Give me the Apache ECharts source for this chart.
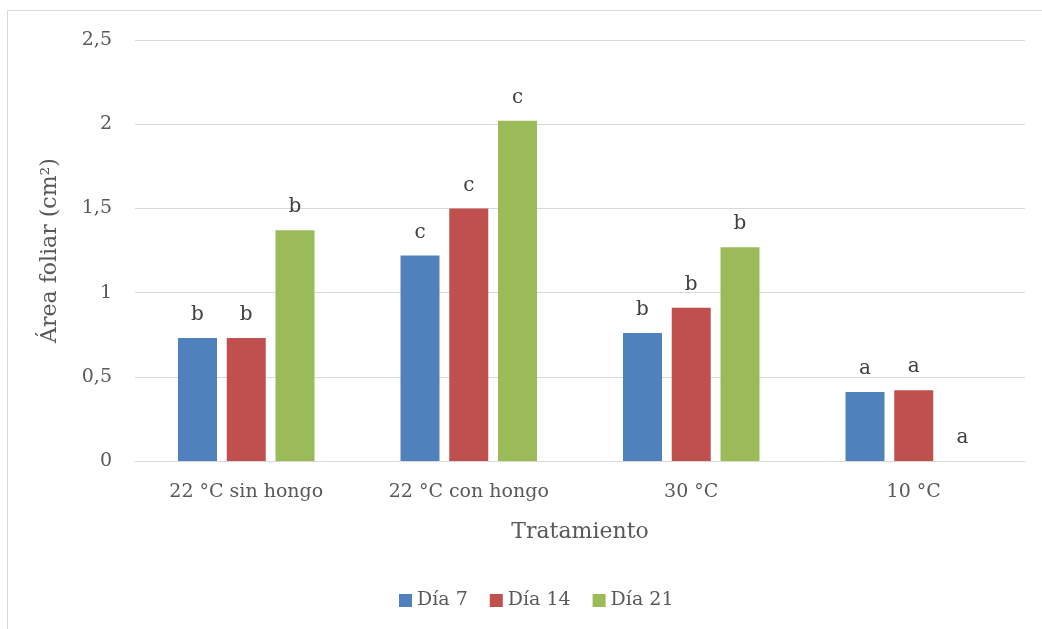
<!DOCTYPE html>
<html><head><meta charset="utf-8">
<script src="https://cdn.jsdelivr.net/npm/echarts@6/dist/echarts.min.js"></script>
<style>html,body{margin:0;padding:0;background:#fff}#c{width:1042px;height:629px}</style>
</head><body><div id="c"></div>
<script>
const categories = ['22 °C sin hongo', '22 °C con hongo', '30 °C', '10 °C'];
const seriesNames = ['Día 7', 'Día 14', 'Día 21'];
const dia7 = [0.73, 1.22, 0.76, 0.41];
const dia14 = [0.73, 1.50, 0.91, 0.42];
const dia21 = [1.37, 2.02, 1.27, 0];
const letters7 = ['b', 'c', 'b', 'a'];
const letters14 = ['b', 'c', 'b', 'a'];
const letters21 = ['b', 'c', 'b', 'a'];
const yTicks = [0, 0.5, 1, 1.5, 2, 2.5];

const FONT = 'DejaVu Serif';
const colors = ['#4F81BD', '#C0504D', '#9BBB59'];
const chart = echarts.init(document.getElementById('c'));
function mk(name, data, letters, color) {
  return {
    name: name, type: 'bar', data: data, barWidth: 39, barGap: '25%',
    itemStyle: { color: color },
    label: { show: true, position: 'top', distance: 13, color: '#404040', fontFamily: FONT, fontSize: 20,
      formatter: p => letters[p.dataIndex] }
  };
}
chart.setOption({
  animation: false,
  textStyle: { fontFamily: FONT },
  graphic: [{ type: 'rect', shape: { x: 7.5, y: 10.5, width: 1100, height: 700 },
    style: { fill: null, stroke: '#d9d9d9', lineWidth: 1 }, silent: true, z: -1 }],
  grid: { left: 135, right: 17, top: 40, bottom: 168 },
  legend: { bottom: 14, left: 394, itemWidth: 13, itemHeight: 13, itemGap: 22, icon: 'rect',
    textStyle: { fontFamily: FONT, fontSize: 19, color: '#595959' }, data: seriesNames },
  xAxis: { type: 'category', data: categories,
    name: 'Tratamiento', nameLocation: 'middle', nameGap: 60,
    nameTextStyle: { fontFamily: FONT, fontSize: 22, color: '#595959' },
    axisLine: { lineStyle: { color: '#d9d9d9' } }, axisTick: { show: false },
    axisLabel: { fontFamily: FONT, fontSize: 19, color: '#595959', margin: 22 } },
  yAxis: { type: 'value', min: 0, max: 2.5, interval: 0.5,
    name: 'Área foliar (cm²)', nameLocation: 'middle', nameGap: 74,
    nameTextStyle: { fontFamily: FONT, fontSize: 22, color: '#595959' },
    axisLine: { show: false }, axisTick: { show: false },
    splitLine: { lineStyle: { color: '#d9d9d9' } },
    axisLabel: { fontFamily: FONT, fontSize: 19, color: '#595959', margin: 23,
      formatter: v => String(v).replace('.', ',') } },
  series: [mk(seriesNames[0], dia7, letters7, colors[0]), mk(seriesNames[1], dia14, letters14, colors[1]), mk(seriesNames[2], dia21, letters21, colors[2])]
});
</script></body></html>
